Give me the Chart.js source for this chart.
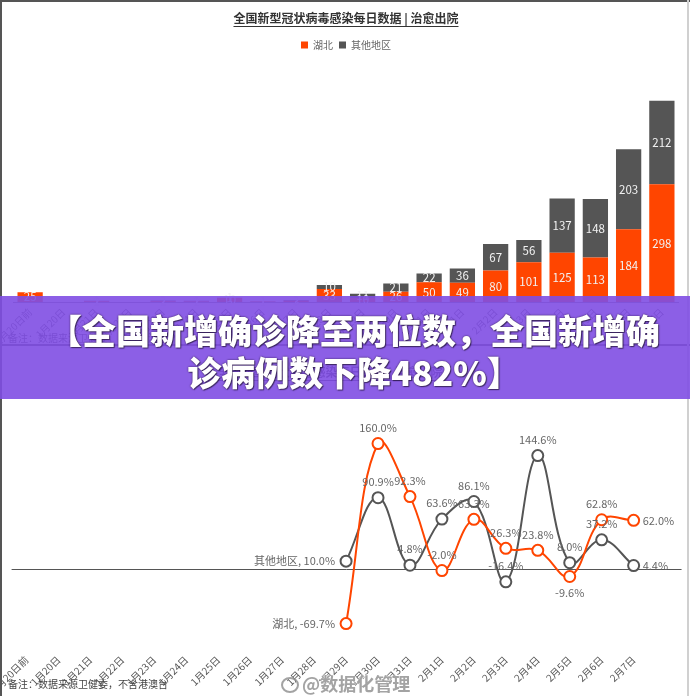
<!DOCTYPE html>
<html><head><meta charset="utf-8">
<script src="https://cdn.jsdelivr.net/npm/chart.js@4.4.1/dist/chart.umd.min.js"></script>
<style>
html,body{margin:0;padding:0;background:#fff;}
body{width:690px;height:696px;position:relative;overflow:hidden;font-family:"Noto Sans CJK SC","Noto Sans",sans-serif;}
canvas{position:absolute;left:0;display:block;}
#c1{top:0;}
#c2{top:344px;}
.line{position:absolute;}
.note{position:absolute;left:8px;font-size:10px;color:#444;white-space:nowrap;}
#wm{position:absolute;left:281px;top:670px;font-size:18px;font-weight:700;color:rgba(140,140,140,0.8);text-shadow:0 0 2px #fff,0 0 2px #fff;white-space:nowrap;}
#wm .logo{display:inline-block;width:14px;height:12px;border:2px solid rgba(140,140,140,0.8);border-radius:50%;vertical-align:-2px;margin-right:3px;}
#banner{position:absolute;left:0;top:296px;width:690px;height:103px;background:rgba(127,78,227,0.9);}
#banner div{position:absolute;left:18px;width:672px;text-align:center;color:#fff;font-weight:900;font-size:34px;white-space:nowrap;line-height:42px;text-shadow:0 0 2px rgba(40,20,60,0.9),1px 1px 1px rgba(0,0,0,0.5);}
</style>
</head><body>
<canvas id="c1" width="690" height="344"></canvas>
<canvas id="c2" width="690" height="352"></canvas>
<div class="line" style="left:0;top:0;width:690px;height:2px;background:#555"></div>
<div class="line" style="left:0;top:344px;width:690px;height:2px;background:#555"></div>
<div class="line" style="left:0;top:0;width:2px;height:696px;background:#555"></div>
<div class="line" style="left:687px;top:0;width:2px;height:696px;background:#d0d0d0"></div>
<div class="note" style="top:330px">备注：数据来源卫健委，不含港澳台</div>
<div class="note" style="top:676px">备注：数据来源卫健委，不含港澳台</div>
<div id="wm"><span class="logo"></span>@数据化管理</div>
<div id="banner">
  <div style="top:13px">【全国新增确诊降至两位数，全国新增确</div>
  <div style="top:55px">诊病例数下降482%】</div>
</div>
<script>
// ---------- data ----------
const categories = ['1月20日前','1月20日','1月21日','1月22日','1月23日','1月24日','1月25日','1月26日','1月27日','1月28日','1月29日','1月30日','1月31日','2月1日','2月2日','2月3日','2月4日','2月5日','2月6日','2月7日'];
const seriesNames = ['湖北','其他地区'];
const hubeiCured = [25,0,2,0,2,1,10,1,3,33,10,26,50,49,80,101,125,113,184,298];
const otherCured = [0,0,1,0,2,2,1,1,2,10,11,21,22,36,67,56,137,148,203,212];
const hubeiGrowth = [null,null,null,null,null,null,null,null,null,null,-69.7,160.0,92.3,-2.0,63.3,26.3,23.8,-9.6,62.8,62.0];
const otherGrowth = [null,null,null,null,null,null,null,null,null,null,10.0,90.9,4.8,63.6,86.1,-16.4,144.6,8.0,37.2,4.4];
const chartTitle = '全国新型冠状病毒感染每日数据 | 治愈出院';

// ---------- style ----------
const ORANGE = '#FF4500';
const DARK = '#555555';
const FONT = '"Noto Sans CJK SC","Noto Sans",sans-serif';
Chart.defaults.font.family = FONT;
Chart.defaults.animation = false;

const titleUnderline = {
  id: 'titleUnderline',
  afterDraw(chart) {
    const t = chart.titleBlock;
    if (!t || !t.options.display) return;
    const ctx = chart.ctx;
    const f = Chart.helpers.toFont(t.options.font);
    ctx.save();
    ctx.font = f.string;
    const w = ctx.measureText(t.options.text).width;
    const cx = (chart.chartArea.left + chart.chartArea.right) / 2;
    const y = t.top + t.options.padding.top + f.lineHeight / 2 + 8.5;
    ctx.strokeStyle = '#333';
    ctx.lineWidth = 1;
    ctx.beginPath();
    ctx.moveTo(cx - w / 2, y);
    ctx.lineTo(cx + w / 2, y);
    ctx.stroke();
    ctx.restore();
  }
};

const barLabels = {
  id: 'barLabels',
  afterDatasetsDraw(chart) {
    const ctx = chart.ctx;
    ctx.save();
    ctx.font = '11.5px ' + FONT;
    ctx.fillStyle = '#f2f2f2';
    ctx.textAlign = 'center';
    ctx.textBaseline = 'middle';
    chart.data.datasets.forEach((ds, di) => {
      chart.getDatasetMeta(di).data.forEach((bar, i) => {
        const v = ds.data[i];
        if (!v) return;
        const p = bar.getProps(['x', 'y', 'base'], true);
        ctx.fillText(String(v), p.x, (p.y + p.base) / 2);
      });
    });
    ctx.restore();
  }
};

const zeroLine = {
  id: 'zeroLine',
  beforeDatasetsDraw(chart) {
    const {ctx, chartArea: a, scales: {x, y}} = chart;
    const y0 = Math.round(y.getPixelForValue(0)) + 0.5;
    const step = x.width / chart.data.labels.length;
    ctx.save();
    ctx.strokeStyle = '#555';
    ctx.lineWidth = 1;
    ctx.beginPath();
    ctx.moveTo(a.left + 1, y0);
    ctx.lineTo(a.right + step, y0);
    ctx.stroke();
    ctx.restore();
  }
};

const pointLabels = {
  id: 'pointLabels',
  afterDatasetsDraw(chart, args, opts) {
    const ctx = chart.ctx;
    ctx.save();
    ctx.font = '11px ' + FONT;
    ctx.fillStyle = '#666';
    ctx.textBaseline = 'middle';
    chart.data.datasets.forEach((ds, di) => {
      const meta = chart.getDatasetMeta(di);
      const idx = [];
      ds.data.forEach((v, i) => { if (v !== null) idx.push(i); });
      const first = idx[0], last = idx[idx.length - 1];
      idx.forEach(i => {
        const el = meta.data[i];
        const txt = ds.data[i].toFixed(1) + '%';
        if (i === first) {
          ctx.textAlign = 'right';
          ctx.fillText(ds.label + ', ' + txt, el.x - 11, el.y);
        } else if (i === last) {
          ctx.textAlign = 'left';
          ctx.fillText(txt, el.x + 9, el.y);
        } else {
          ctx.textAlign = 'center';
          const below = (opts.below[di] || []).includes(i);
          ctx.fillText(txt, el.x, el.y + (below ? 16 : -16));
        }
      });
    });
    ctx.restore();
  }
};

function fixAxis(h) {
  return function (scale) {
    scale.height = h;
    scale.paddingLeft = 0;
    scale.paddingRight = 0;
  };
}

const xTicks = {
  autoSkip: false,
  minRotation: 45,
  maxRotation: 45,
  color: '#555',
  font: {size: 10}
};

// ---------- chart 1: stacked bars ----------
new Chart(document.getElementById('c1'), {
  type: 'bar',
  data: {
    labels: categories,
    datasets: [
      {label: seriesNames[0], data: hubeiCured, backgroundColor: ORANGE, stack: 's'},
      {label: seriesNames[1], data: otherCured, backgroundColor: DARK, stack: 's'}
    ]
  },
  options: {
    responsive: false,
    layout: {padding: {left: 13.5, right: 11.5, top: 0, bottom: 0}},
    datasets: {bar: {categoryPercentage: 1, barPercentage: 0.76}},
    plugins: {
      title: {display: true, text: chartTitle, color: '#333', font: {size: 12, weight: 'bold'}, padding: {top: 10.8, bottom: 8.8}},
      legend: {display: true, labels: {boxWidth: 7, boxHeight: 7, color: '#666', font: {size: 10}, padding: 6}},
      tooltip: {enabled: false}
    },
    scales: {
      x: {
        stacked: true,
        grid: {display: false, drawTicks: false},
        border: {display: true, color: '#888'},
        ticks: Object.assign({padding: 4}, xTicks),
        afterFit: fixAxis(42)
      },
      y: {stacked: true, display: false, min: 0, max: 613}
    }
  },
  plugins: [titleUnderline, barLabels]
});

// ---------- chart 2: growth rate lines ----------
new Chart(document.getElementById('c2'), {
  type: 'line',
  data: {
    labels: categories,
    datasets: [
      {label: seriesNames[0], data: hubeiGrowth, borderColor: ORANGE, pointBorderColor: ORANGE,
       pointBackgroundColor: '#fff', borderWidth: 2, pointRadius: 5.5, pointBorderWidth: 2, tension: 0.4, clip: false},
      {label: seriesNames[1], data: otherGrowth, borderColor: DARK, pointBorderColor: DARK,
       pointBackgroundColor: '#fff', borderWidth: 2, pointRadius: 5.5, pointBorderWidth: 2, tension: 0.4, clip: false}
    ]
  },
  options: {
    responsive: false,
    layout: {padding: {left: 10.6, right: 40.4, top: 0, bottom: 0}},
    plugins: {
      title: {display: true, text: chartTitle, color: '#333', font: {size: 12, weight: 'bold'}, padding: {top: 20.8, bottom: 17.3}},
      legend: {display: false},
      tooltip: {enabled: false},
      pointLabels: {below: [[17], []]}
    },
    scales: {
      x: {
        offset: true,
        grid: {display: false, drawTicks: false},
        border: {display: false},
        ticks: Object.assign({padding: 22}, xTicks),
        afterFit: fixAxis(64.3)
      },
      y: {display: false, min: -80, max: 220}
    }
  },
  plugins: [titleUnderline, zeroLine, pointLabels]
});
</script>
</body></html>
